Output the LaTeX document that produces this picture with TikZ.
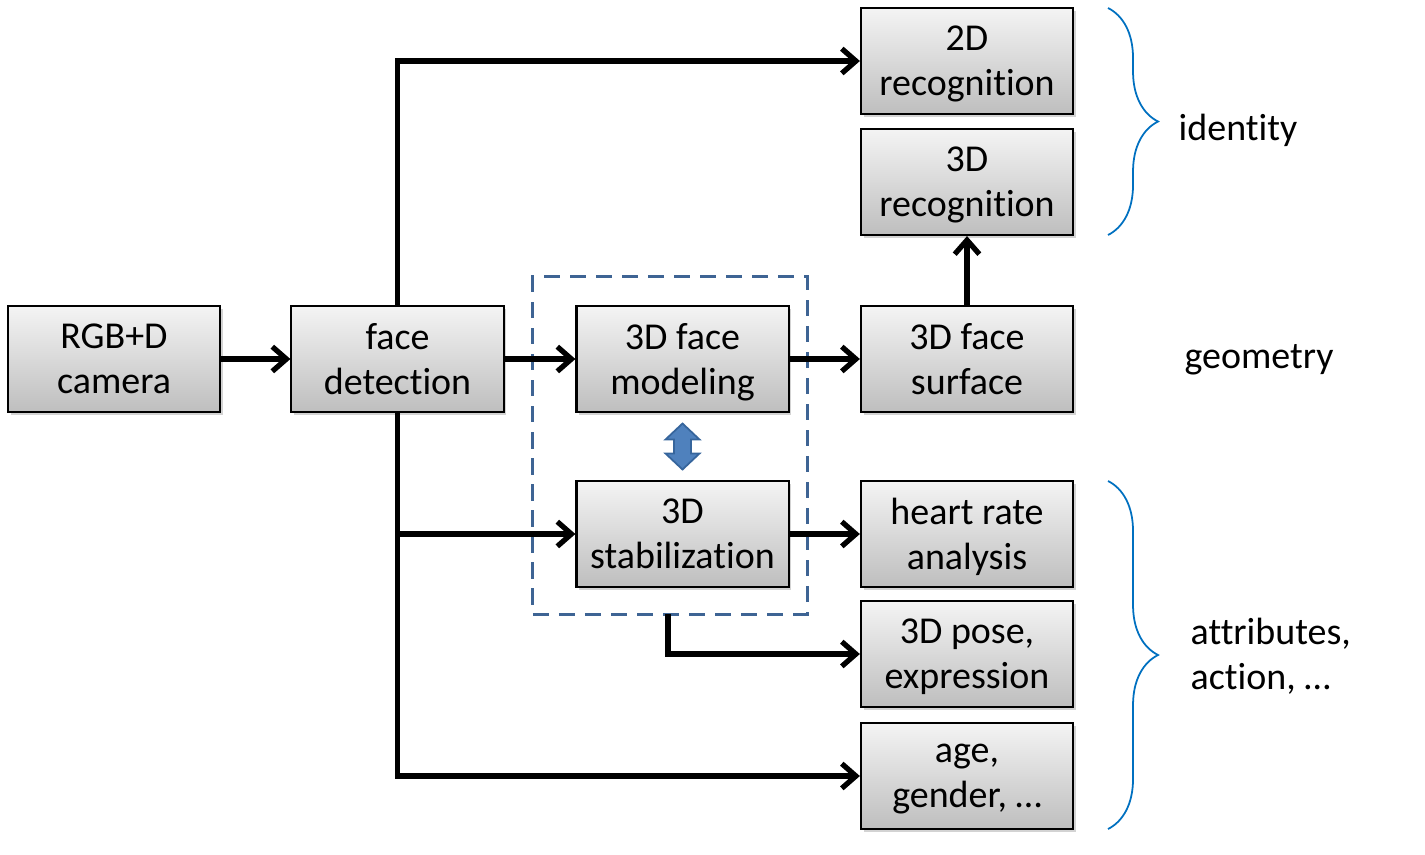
\documentclass[tikz,border=0pt]{standalone}
\usepackage{fontspec}
\setmainfont{Carlito}[Ligatures=NoCommon]
\usepackage{xcolor}
\usepackage{tikz}
\usetikzlibrary{arrows.meta,shadows,decorations.pathreplacing}
\definecolor{boxtop}{HTML}{F4F4F4}
\definecolor{boxbot}{HTML}{BEBEBE}
\definecolor{grpblue}{HTML}{3E6494}
\definecolor{dblfill}{HTML}{4F81BD}
\definecolor{dbledge}{HTML}{36659C}
\definecolor{brace}{HTML}{0070C0}
\tikzset{
  blk/.style={draw=black, line width=0.6pt, top color=boxtop, bottom color=boxbot,
    minimum width=2.12cm, minimum height=1.06cm, align=center, inner sep=0pt,
    text depth=0pt,
    drop shadow={shadow xshift=0.8pt, shadow yshift=-0.8pt, opacity=0.35}},
  arr/.style={draw=black, line width=1.5pt, -{Straight Barb[length=4pt,width=7pt]}},
  grpbox/.style={draw=grpblue, line width=0.85pt, dash pattern=on 4.6pt off 2.8pt},
  swap/.style={fill=dblfill, draw=dbledge, line width=0.5pt, line join=miter},
  brc/.style={draw=brace, line width=0.5pt, decorate, decoration={brace, amplitude=0.5cm}},
  lbl/.style={align=left, inner sep=0pt}
}

\begin{document}
\begin{tikzpicture}[x=0.01cm, y=-0.01cm, font=\fontsize{10.8}{12.8}\selectfont]
  \useasboundingbox (0,0) rectangle (1425,854);

  % processing group
  \node[grpbox, minimum width=2.74cm, minimum height=3.37cm] (grp) at (670,445.5) {};

  \node[blk] (cam)   at (114,359) {RGB+D\\camera};
  \node[blk] (det)   at (397.5,359) {face\\detection};
  \node[blk] (model) at (682.5,359) {3D face\\modeling};
  \node[blk] (stab)  at (682.5,534) {3D\\stabilization};

  \node[blk] (rec2d) at (967,61)  {2D\\recognition};
  \node[blk] (rec3d) at (967,182) {3D\\recognition};
  \node[blk] (surf)  at (967,359) {3D face\\surface};
  \node[blk] (heart) at (967,534) {heart rate\\analysis};
  \node[blk] (pose)  at (967,654) {3D pose,\\expression};
  \node[blk] (age)   at (967,776) {age,\\gender, …};

  % two-way link
  \coordinate (sw) at (682.5,446.5);
  \draw[swap] (sw) ++(0,-23) -- ++(17,16) -- ++(-8.5,0) -- ++(0,14) -- ++(8.5,0)
    -- ++(-17,16) -- ++(-17,-16) -- ++(8.5,0) -- ++(0,-14) -- ++(-8.5,0) -- cycle;

  \coordinate (tap) at (668,614);

  \draw[arr] (cam) -- (det);
  \draw[arr] (det) -- (model);
  \draw[arr] (det.north) |- (rec2d);
  \draw[arr] (det.south) |- (age);
  \draw[arr] (det.south |- stab.west) -- (stab);
  \draw[arr] (model) -- (surf);
  \draw[arr] (surf) -- (rec3d);
  \draw[arr] (stab) -- (heart);
  \draw[arr] (tap) |- (pose);

  % outputs
  \draw[brc] (1108,8) -- (1108,235);
  \draw[brc] (1108,481) -- (1108,829);
  \node[lbl, anchor=west] (idt) at (1178,130) {identity};
  \node[lbl] (geo) at (1259,360) {geometry};
  \node[lbl, anchor=west] (attr) at (1190,656) {attributes,\\action, …};
\end{tikzpicture}
\end{document}
